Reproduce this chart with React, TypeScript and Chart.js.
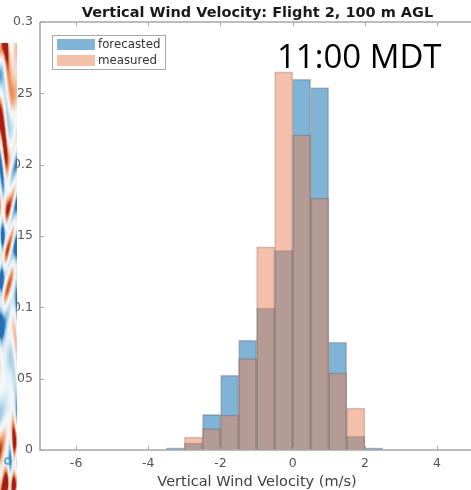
import React, { useEffect, useRef } from "react";
import { Chart, registerables } from "chart.js";
Chart.register(...registerables);

const binCenters = [-3.25, -2.75, -2.25, -1.75, -1.25, -0.75, -0.25, 0.25, 0.75, 1.25, 1.75, 2.25];
const forecasted = [0.0015, 0.005, 0.025, 0.0525, 0.077, 0.0996, 0.14, 0.26, 0.254, 0.0757, 0.0098, 0.0015];
const measured = [0, 0.009, 0.015, 0.0245, 0.064, 0.1424, 0.265, 0.221, 0.1766, 0.054, 0.0294, 0];
const xTicks = [-6, -4, -2, 0, 2, 4];
const yTicks = [0, 0.05, 0.1, 0.15, 0.2, 0.25, 0.3];
const yTickLabels = ["0", "0.05", "0.1", "0.15", "0.2", "0.25", "0.3"];
const seriesLabels = ["forecasted", "measured"];
const titleText = "Vertical Wind Velocity: Flight 2, 100 m AGL";
const xAxisTitle = "Vertical Wind Velocity (m/s)";
const annotationText = "11:00 MDT";

const BLUE = "rgba(0,105,175,0.5)";
const ORANGE = "rgba(233,129,85,0.5)";
const EDGE = "rgba(70,50,50,0.28)";
const AXIS = "#a6a6a6";
const FONT = "'DejaVu Sans', sans-serif";

function cmap(t: number): string {
  const stops: [number, number[]][] = [
    [-1, [40, 110, 180]],
    [-0.5, [150, 198, 225]],
    [0, [244, 247, 250]],
    [0.5, [240, 150, 95]],
    [1, [165, 30, 25]],
  ];
  t = Math.max(-1, Math.min(1, t));
  for (let i = 0; i < stops.length - 1; i++) {
    const [a, ca] = stops[i];
    const [b, cb] = stops[i + 1];
    if (t >= a && t <= b) {
      const f = (t - a) / (b - a);
      const c = ca.map((v, k) => Math.round(v + (cb[k] - v) * f));
      return `rgb(${c[0]},${c[1]},${c[2]})`;
    }
  }
  return "white";
}

const decorPlugin = {
  id: "decor",
  beforeDraw(chart: any) {
    const { ctx } = chart;
    ctx.save();
    ctx.fillStyle = "#ffffff";
    ctx.fillRect(0, 0, chart.width, chart.height);
    ctx.restore();
  },
  afterDraw(chart: any) {
    const { ctx, chartArea, scales } = chart;
    const { left, right, top, bottom } = chartArea;
    const xs = scales.x;
    const ys = scales.y;
    ctx.save();
    // axes box
    ctx.strokeStyle = AXIS;
    ctx.lineWidth = 1.5;
    ctx.beginPath();
    ctx.moveTo(left, top);
    ctx.lineTo(left, bottom);
    ctx.lineTo(right, bottom);
    ctx.moveTo(left, top);
    ctx.lineTo(right, top);
    ctx.stroke();
    ctx.lineWidth = 1;
    ctx.beginPath();
    for (const v of xTicks) {
      const px = Math.round(xs.getPixelForValue(v)) + 0.5;
      ctx.moveTo(px, bottom);
      ctx.lineTo(px, bottom - 4);
      ctx.moveTo(px, top);
      ctx.lineTo(px, top + 4);
    }
    for (const v of yTicks) {
      const py = Math.round(ys.getPixelForValue(v)) + 0.5;
      ctx.moveTo(left, py);
      ctx.lineTo(left + 4, py);
    }
    ctx.stroke();

    // title
    ctx.fillStyle = "#1a1a1a";
    ctx.font = `bold 14.5px ${FONT}`;
    ctx.textAlign = "center";
    ctx.textBaseline = "alphabetic";
    ctx.fillText(titleText, 257.5, 16.5);

    // x axis title
    ctx.fillStyle = "#404040";
    ctx.font = `14.5px ${FONT}`;
    ctx.fillText(xAxisTitle, 257, 486);

    // annotation
    ctx.fillStyle = "#000000";
    ctx.font = `33px 'Open Sans', sans-serif`;
    ctx.textAlign = "left";
    ctx.fillText(annotationText, 277, 68);

    // legend
    const lx = 52, ly = 35, lw = 113, lh = 34;
    ctx.fillStyle = "#ffffff";
    ctx.fillRect(lx, ly, lw, lh);
    ctx.strokeStyle = "#a8a8a8";
    ctx.lineWidth = 1;
    ctx.strokeRect(lx + 0.5, ly + 0.5, lw, lh);
    const colors = [BLUE, ORANGE];
    ctx.font = `11.8px ${FONT}`;
    ctx.textBaseline = "middle";
    seriesLabels.forEach((lab, i) => {
      const yy = ly + 4 + i * 16;
      ctx.fillStyle = colors[i];
      ctx.fillRect(lx + 5, yy, 38, 11);
      ctx.fillStyle = "#333333";
      ctx.fillText(lab, lx + 46, yy + 6);
    });

    // left decorative strip (cropped background image)
    const sx1 = 17, sy0 = 43, sy1 = chart.height;
    for (let y = sy0; y < sy1; y += 1) {
      for (let x = 0; x < sx1; x += 1) {
        const a = Math.sin(x * 0.22 + y * 0.037 + 2.1 * Math.sin(y * 0.023 + x * 0.09));
        const b = Math.cos(y * 0.071 - x * 0.17 + 1.1 * Math.sin(x * 0.31 + y * 0.013));
        const c = Math.sin(y * 0.014 + 0.5);
        let v = 1.15 * a * b + 0.3 * c;
        v = Math.sign(v) * Math.pow(Math.abs(v), 1.6);
        ctx.fillStyle = cmap(v);
        ctx.fillRect(x, y, 1, 1);
      }
    }
    ctx.strokeStyle = "#3aa0c8";
    ctx.lineWidth = 1.5;
    ctx.beginPath();
    ctx.arc(8, 461, 3, 0, Math.PI * 2);
    ctx.stroke();
    ctx.restore();
  },
};

export default function App() {
  const ref = useRef<HTMLCanvasElement | null>(null);
  useEffect(() => {
    if (!ref.current) return;
    const chart = new Chart(ref.current, {
      type: "bar",
      data: {
        datasets: [
          {
            label: seriesLabels[0],
            data: binCenters.map((x, i) => ({ x, y: forecasted[i] })),
            backgroundColor: BLUE,
            borderColor: EDGE,
            borderWidth: 1,
            barPercentage: 1,
            categoryPercentage: 1,
            grouped: false,
            order: 1,
          } as any,
          {
            label: seriesLabels[1],
            data: binCenters.map((x, i) => ({ x, y: measured[i] })),
            backgroundColor: ORANGE,
            borderColor: EDGE,
            borderWidth: 1,
            barPercentage: 1,
            categoryPercentage: 1,
            grouped: false,
            order: 0,
          } as any,
        ],
      },
      options: {
        animation: false,
        responsive: false,
        events: [],
        layout: { padding: { top: 22, left: 0, right: 0, bottom: 0 } },
        plugins: { legend: { display: false }, title: { display: false }, tooltip: { enabled: false } },
        scales: {
          x: {
            type: "linear",
            offset: false,
            min: -7,
            max: 4.94,
            grid: { display: false, drawTicks: false, offset: false },
            border: { display: false },
            afterBuildTicks: (s: any) => {
              s.ticks = xTicks.map((v) => ({ value: v }));
            },
            afterFit: (s: any) => {
              s.height = 40;
            },
            ticks: {
              autoSkip: false,
              maxRotation: 0,
              padding: 6,
              color: "#555555",
              font: { family: FONT, size: 12.5 },
            },
          },
          y: {
            min: 0,
            max: 0.3,
            grid: { display: false, drawTicks: false },
            border: { display: false },
            afterBuildTicks: (s: any) => {
              s.ticks = yTicks.map((v) => ({ value: v }));
            },
            afterFit: (s: any) => {
              s.width = 40;
            },
            ticks: {
              autoSkip: false,
              padding: 7,
              color: "#555555",
              font: { family: FONT, size: 12.5 },
              callback: (_v: any, i: number) => yTickLabels[i],
            },
          },
        },
      } as any,
      plugins: [decorPlugin],
    });
    return () => chart.destroy();
  }, []);
  return (
    <div style={{ position: "absolute", left: 0, top: 0, width: 471, height: 490 }}>
      <canvas ref={ref} width={471} height={490} style={{ display: "block", width: 471, height: 490 }} />
    </div>
  );
}
